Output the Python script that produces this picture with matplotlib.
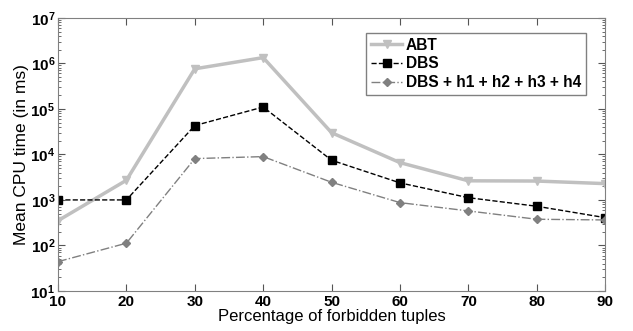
import matplotlib
matplotlib.use("Agg")
import matplotlib.pyplot as plt
from matplotlib.ticker import FuncFormatter

plt.rcParams["font.family"] = ["Liberation Sans", "DejaVu Sans"]
plt.rcParams["mathtext.fontset"] = "custom"
plt.rcParams["mathtext.bf"] = "Liberation Sans:bold"
plt.rcParams["mathtext.rm"] = "Liberation Sans"

# percentage of forbidden tuples
percent = [10, 20, 30, 40, 50, 60, 70, 80, 90]
# mean cpu time (ms)
abt = [350, 2700, 760000, 1340000, 30000, 6600, 2630, 2600, 2280]
dbs = [1000, 1000, 43000, 110000, 7450, 2370, 1120, 726, 408]
dbs_h = [44, 112, 8090, 8950, 2440, 873, 573, 376, 363]

fig = plt.figure(figsize=(6.33, 3.31), dpi=100)
ax = fig.add_axes([0.0916, 0.121, 0.8644, 0.825])

ax.plot(percent, abt, color="#c0c0c0", lw=2.5, marker="v", ms=6,
        mec="#c0c0c0", mfc="#c0c0c0", label="ABT")
ax.plot(percent, dbs, color="black", lw=1, ls="--", marker="s", ms=5.5,
        label="DBS")
ax.plot(percent, dbs_h, color="#808080", lw=1, ls="-.", marker="D", ms=4,
        mec="#808080", mfc="#808080", label="DBS + h1 + h2 + h3 + h4")

ax.set_yscale("log")
ax.set_xlim(10, 90)
ax.set_ylim(10, 1e7)
ax.set_xticks(percent)


def pow10(v, pos):
    e = int(round(__import__("math").log10(v)))
    return r"$\mathbf{10^{%d}}$" % e


ax.yaxis.set_major_formatter(FuncFormatter(pow10))
ax.tick_params(which="both", direction="in", top=True, right=True,
               colors="#555555", labelcolor="black")
ax.tick_params(which="major", length=5)
ax.tick_params(which="minor", length=2.5)
ax.tick_params(axis="x", pad=3)
ax.tick_params(axis="y", pad=2)
for lab in ax.get_xticklabels() + ax.get_yticklabels():
    lab.set_fontweight("bold")
    lab.set_fontsize(11)
for s in ax.spines.values():
    s.set_color("#808080")

ax.set_xlabel("Percentage of forbidden tuples", fontsize=12, labelpad=0)
ax.set_ylabel("Mean CPU time (in ms)", fontsize=12.5, labelpad=1)

leg = ax.legend(loc="upper right", bbox_to_anchor=(0.965, 0.945),
                fancybox=False, framealpha=1, edgecolor="#808080",
                prop={"weight": "bold", "size": 11.2}, handlelength=2.0,
                handletextpad=0.25, borderpad=0.3, labelspacing=0.25,
                borderaxespad=0)
leg.get_frame().set_linewidth(1)

fig.savefig("out.png", dpi=100)
